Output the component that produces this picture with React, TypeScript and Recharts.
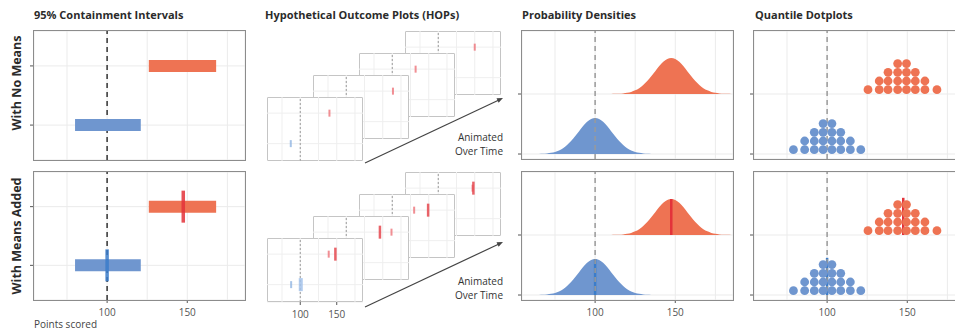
import React from 'react'
import {
  ComposedChart,
  Area,
  Scatter,
  XAxis,
  YAxis,
  CartesianGrid,
  ReferenceLine,
} from 'recharts'

const FONT = '"Open Sans", "DejaVu Sans", sans-serif'
const BLUE = '#6f96cf'
const ORANGE = '#ee7353'
const BLUE_MEAN = '#3b7dca'
const RED_MEAN = '#e3333a'
const COLORS = [BLUE, ORANGE]
const MEAN_COLORS = [BLUE_MEAN, RED_MEAN]

// shared x scale (points scored)
const X_DOMAIN = [54.4, 186]
const GRID_TICKS = [75, 100, 125, 150, 175]
const LABEL_TICKS = [100, 150]
const ROWS = [0, 1] // 0 = blue (lower row), 1 = orange (upper row)
const KEYS = ['blue', 'orange']

// 95% containment intervals and means
const INTERVAL_LOW = [80, 126]
const INTERVAL_HIGH = [121, 168]
const MEANS = [100, 147.5]

// density shape around each mean (offset in points -> height relative to peak)
const DENSITY_OFFSETS = [
  -37.5, -35, -32.5, -30, -27.5, -25, -22.5, -20, -17.5, -15, -12.5, -10, -7.5, -5, -2.5, 0,
  2.5, 5, 7.5, 10, 12.5, 15, 17.5, 20, 22.5, 25, 27.5, 30, 32.5, 35, 37.5,
]
const DENSITY_PROFILE = [
  0.002, 0.004, 0.008, 0.017, 0.032, 0.059, 0.101, 0.163, 0.249, 0.36, 0.492, 0.635, 0.775, 0.893,
  0.972, 1, 0.972, 0.893, 0.775, 0.635, 0.492, 0.36, 0.249, 0.163, 0.101, 0.059, 0.032, 0.017,
  0.008, 0.004, 0.002,
]
const DENSITY_PEAK = 0.6
const MEAN_HEIGHT = 0.62

// quantile dotplots, 20 dots per group
const BLUE_DOT_X = [79, 86, 92, 97.5, 103, 108.5, 114.5, 121]
const ORANGE_DOT_X = [125.5, 132.5, 138, 144, 149.5, 155, 161, 168.5]
const DOT_COUNTS = [1, 2, 3, 4, 4, 3, 2, 1]
const DOT_BASE = 0.072
const DOT_STEP = 0.145

// HOPs frames, front to back
const HOP_BLUE_DRAWS = [87, 94, 104, 97]
const HOP_ORANGE_DRAWS = [140, 164, 132, 150]
const HOP_BLUE_DRAWS_M = [87.5, 93, 105, 99]
const HOP_BLUE_MEANS_M = [100, 101, 103, 98]
const HOP_ORANGE_DRAWS_M = [139, 162, 130, 147]
const HOP_ORANGE_MEANS_M = [148.5, 146.5, 149.5, 148.5]

const PANEL_W = 211
const HOP_W = 96
const HOP_H = 64

// tables built from the arrays above
const densityMap = new Map<number, any>()
ROWS.forEach((r) =>
  DENSITY_OFFSETS.forEach((o, i) => {
    const x = MEANS[r] + o
    const row = densityMap.get(x) ?? { x }
    row[KEYS[r]] = [r, r + DENSITY_PROFILE[i] * DENSITY_PEAK]
    densityMap.set(x, row)
  })
)
const DENSITY_DATA = [...densityMap.values()].sort((a, b) => a.x - b.x)

const dotPoints = (xs: number[], row: number) =>
  xs.flatMap((x, i) =>
    Array.from({ length: DOT_COUNTS[i] }, (_, k) => ({ x, y: row + DOT_BASE + k * DOT_STEP }))
  )
const DOTS = [dotPoints(BLUE_DOT_X, 0), dotPoints(ORANGE_DOT_X, 1)]

function XTick(props: any) {
  const { x, y, payload } = props
  if (!LABEL_TICKS.includes(payload.value)) return <g />
  return (
    <g>
      <line x1={x} x2={x} y1={y - 8} y2={y - 5} stroke="#555" />
      <text x={x} y={y} dy="0.8em" textAnchor="middle" fontSize={10} fill="#555" fontFamily={FONT}>
        {payload.value}
      </text>
    </g>
  )
}

// small row tick just left of the panel border
const YTick = (props: any) => <line x1={1} x2={4} y1={props.y} y2={props.y} stroke="#555" />

type PanelProps = {
  left: number
  top: number
  height: number
  yDomain: number[]
  axis: boolean
  dash: string
  data?: any[]
  children: React.ReactNode
}

function Panel({ left, top, height, yDomain, axis, dash, data, children }: PanelProps) {
  const h = height + (axis ? 24 : 0)
  return (
    <div style={{ position: 'absolute', left: left - 5, top, width: PANEL_W + 5, height: h }}>
      <ComposedChart width={PANEL_W + 5} height={h} data={data} margin={{ top: 0, right: 0, bottom: 0, left: 0 }}>
        <CartesianGrid stroke="#ebebeb" />
        <XAxis
          type="number"
          dataKey="x"
          domain={X_DOMAIN}
          ticks={GRID_TICKS}
          interval={0}
          allowDataOverflow
          hide={!axis}
          height={24}
          tick={<XTick />}
          tickLine={false}
          axisLine={false}
        />
        <YAxis
          type="number"
          dataKey="y"
          domain={yDomain}
          ticks={ROWS}
          interval={0}
          allowDataOverflow
          width={5}
          tick={<YTick />}
          tickLine={false}
          axisLine={false}
        />
        {children}
        <ReferenceLine x={100} stroke={dash} strokeDasharray="5 4" strokeWidth={1.5} />
      </ComposedChart>
      <div
        style={{
          position: 'absolute',
          left: 4,
          top: -1,
          width: PANEL_W + 2,
          height: height + 2,
          border: '1.5px solid #8c8c8c',
          boxSizing: 'border-box',
          pointerEvents: 'none',
        }}
      />
    </div>
  )
}

const IntervalBars = () => (
  <>
    {ROWS.map((r) => (
      <Scatter
        key={'iv' + r}
        data={[
          { x: INTERVAL_LOW[r], y: r },
          { x: INTERVAL_HIGH[r], y: r },
        ]}
        line={{ stroke: COLORS[r], strokeWidth: 12 }}
        shape={() => <g />}
        isAnimationActive={false}
      />
    ))}
  </>
)

const meanTick = (p: any) => {
  const c = MEAN_COLORS[p.payload.y]
  return <rect x={p.cx - 1.75} y={p.cy - 16} width={3.5} height={32} fill={c} fillOpacity={0.85} />
}

const meanSegments = (height: number) =>
  ROWS.map((r) => (
    <ReferenceLine
      key={'m' + r}
      segment={[
        { x: MEANS[r], y: r },
        { x: MEANS[r], y: r + height },
      ]}
      stroke={MEAN_COLORS[r]}
      strokeWidth={2.5}
    />
  ))

const dotShape = (fill: string) => (p: any) => <circle cx={p.cx} cy={p.cy} r={4.4} fill={fill} />

function HopFrame({ i, top, withMeans, axis }: { i: number; top: number; withMeans: boolean; axis: boolean }) {
  const draws = withMeans
    ? [
        { x: HOP_BLUE_DRAWS_M[i], y: 0 },
        { x: HOP_ORANGE_DRAWS_M[i], y: 1 },
      ]
    : [
        { x: HOP_BLUE_DRAWS[i], y: 0 },
        { x: HOP_ORANGE_DRAWS[i], y: 1 },
      ]
  const means = [
    { x: HOP_BLUE_MEANS_M[i], y: 0 },
    { x: HOP_ORANGE_MEANS_M[i], y: 1 },
  ]
  const h = HOP_H + (axis ? 20 : 0)
  return (
    <div
      style={{
        position: 'absolute',
        left: 267 + 46 * i,
        top: top - 22 * i,
        width: HOP_W,
        height: HOP_H,
        background: '#fff',
        border: '1px solid #9a9a9a',
        boxSizing: 'border-box',
      }}
    >
      <div style={{ position: 'absolute', left: -1, top: -1 }}>
        <ComposedChart width={HOP_W} height={h} margin={{ top: 0, right: 0, bottom: 0, left: 0 }}>
          <CartesianGrid stroke="#efefef" />
          <XAxis
            type="number"
            dataKey="x"
            domain={X_DOMAIN}
            ticks={GRID_TICKS}
            interval={0}
            allowDataOverflow
            hide={!axis}
            height={20}
            tick={<XTick />}
            tickLine={false}
            axisLine={false}
          />
          <YAxis type="number" dataKey="y" domain={[-0.57, 1.53]} ticks={ROWS} allowDataOverflow hide />
          <ReferenceLine x={100} stroke="#9a9a9a" strokeDasharray="2 2" />
          <Scatter
            data={draws}
            isAnimationActive={false}
            shape={(p: any) => (
              <rect
                x={p.cx - 1}
                y={p.cy - 3.5}
                width={2}
                height={7}
                fill={p.payload.y ? '#ec6a70' : '#8ab0e0'}
                fillOpacity={0.75}
              />
            )}
          />
          {withMeans && (
            <Scatter
              data={means}
              isAnimationActive={false}
              shape={(p: any) => (
                <rect
                  x={p.cx - 1.5}
                  y={p.cy - 6.5}
                  width={p.payload.y ? 2.5 : 4}
                  height={13}
                  fill={p.payload.y ? '#e5484f' : '#a3c2ea'}
                  fillOpacity={0.85}
                />
              )}
            />
          )}
        </ComposedChart>
      </div>
    </div>
  )
}

const titleStyle: React.CSSProperties = {
  position: 'absolute',
  top: 7,
  fontSize: 11,
  fontWeight: 700,
  lineHeight: '15px',
  color: '#2b2b2b',
  whiteSpace: 'nowrap',
}

const rowLabel = (text: string, cy: number) => (
  <div
    style={{
      position: 'absolute',
      left: 17 - 80,
      top: cy - 9,
      width: 160,
      height: 18,
      lineHeight: '18px',
      textAlign: 'center',
      fontSize: 12.5,
      fontWeight: 700,
      color: '#2b2b2b',
      transform: 'rotate(-90deg)',
      whiteSpace: 'nowrap',
    }}
  >
    {text}
  </div>
)

const animText = (top: number) => (
  <div
    style={{
      position: 'absolute',
      left: 430,
      top,
      width: 73,
      textAlign: 'right',
      fontSize: 10,
      lineHeight: '14px',
      color: '#333',
    }}
  >
    Animated
    <br />
    Over Time
  </div>
)

export default function App() {
  const hopOrder = [3, 2, 1, 0]
  return (
    <div
      style={{
        position: 'absolute',
        left: 0,
        top: 0,
        width: 955,
        height: 330,
        overflow: 'hidden',
        background: '#fff',
        fontFamily: FONT,
      }}
    >
      <div style={{ ...titleStyle, left: 34 }}>95% Containment Intervals</div>
      <div style={{ ...titleStyle, left: 265 }}>Hypothetical Outcome Plots (HOPs)</div>
      <div style={{ ...titleStyle, left: 522 }}>Probability Densities</div>
      <div style={{ ...titleStyle, left: 755 }}>Quantile Dotplots</div>

      {rowLabel('With No Means', 83)}
      {rowLabel('With Means Added', 236)}

      {/* containment intervals */}
      <Panel left={34} top={31} height={129} yDomain={[-0.59, 1.59]} axis={false} dash="#333">
        <IntervalBars />
      </Panel>
      <Panel left={34} top={172} height={128} yDomain={[-0.59, 1.59]} axis dash="#333">
        <IntervalBars />
        <Scatter
          data={ROWS.map((r) => ({ x: MEANS[r], y: r }))}
          shape={meanTick}
          isAnimationActive={false}
        />
      </Panel>
      <div style={{ position: 'absolute', left: 34, top: 318, fontSize: 10, lineHeight: '12px', color: '#444' }}>
        Points scored
      </div>

      {/* HOPs */}
      {hopOrder.map((i) => (
        <HopFrame key={'t' + i} i={i} top={97} withMeans={false} axis={false} />
      ))}
      {hopOrder.map((i) => (
        <HopFrame key={'b' + i} i={i} top={238} withMeans axis={i === 0} />
      ))}
      <svg width={955} height={330} style={{ position: 'absolute', left: 0, top: 0, pointerEvents: 'none' }}>
        <line x1={365} y1={163} x2={500} y2={99.5} stroke="#444" strokeWidth={1.2} />
        <polygon points="503,98 496.5,98.3 498.6,102.8" fill="#444" />
        <line x1={365} y1={307} x2={500} y2={243.5} stroke="#444" strokeWidth={1.2} />
        <polygon points="503,242 496.5,242.3 498.6,246.8" fill="#444" />
      </svg>
      {animText(130)}
      {animText(274)}

      {/* densities */}
      <Panel left={522} top={31} height={128} yDomain={[-0.083, 2.05]} axis={false} dash="#9a9a9a" data={DENSITY_DATA}>
        {ROWS.map((r) => (
          <Area
            key={KEYS[r]}
            type="monotone"
            dataKey={KEYS[r]}
            stroke="none"
            fill={COLORS[r]}
            fillOpacity={1}
            isAnimationActive={false}
          />
        ))}
      </Panel>
      <Panel left={522} top={172} height={128} yDomain={[-0.083, 2.05]} axis dash="#9a9a9a" data={DENSITY_DATA}>
        {ROWS.map((r) => (
          <Area
            key={KEYS[r]}
            type="monotone"
            dataKey={KEYS[r]}
            stroke="none"
            fill={COLORS[r]}
            fillOpacity={1}
            isAnimationActive={false}
          />
        ))}
        {meanSegments(DENSITY_PEAK)}
      </Panel>

      {/* quantile dotplots */}
      <Panel left={754} top={31} height={128} yDomain={[-0.083, 2.05]} axis={false} dash="#9a9a9a">
        {ROWS.map((r) => (
          <Scatter key={'d' + r} data={DOTS[r]} shape={dotShape(COLORS[r])} isAnimationActive={false} />
        ))}
      </Panel>
      <Panel left={754} top={172} height={128} yDomain={[-0.083, 2.05]} axis dash="#9a9a9a">
        {ROWS.map((r) => (
          <Scatter key={'d' + r} data={DOTS[r]} shape={dotShape(COLORS[r])} isAnimationActive={false} />
        ))}
        {meanSegments(MEAN_HEIGHT)}
      </Panel>
    </div>
  )
}
